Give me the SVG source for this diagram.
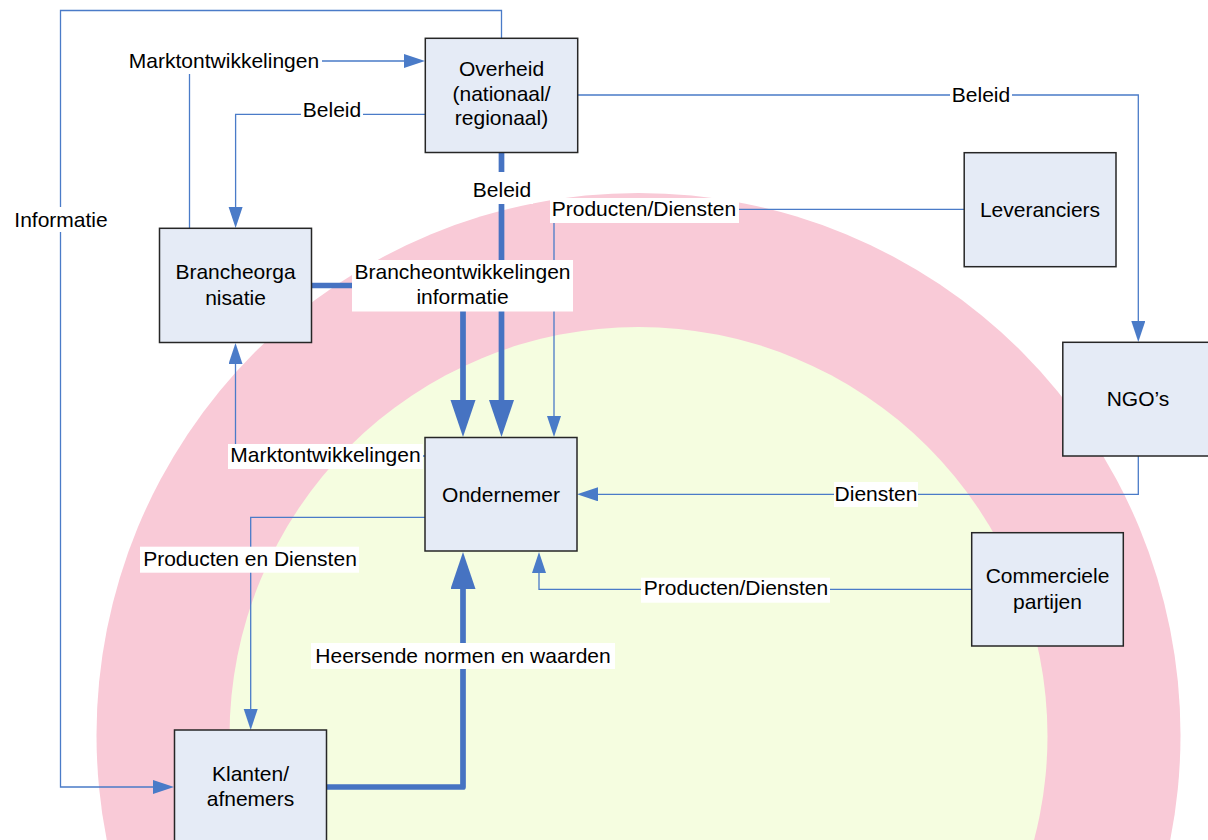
<svg xmlns="http://www.w3.org/2000/svg" width="1208" height="840" viewBox="0 0 1208 840">
  <style>
    .node rect { fill: #e5ebf6; stroke: #262626; stroke-width: 1.5; }
    text { font-family: "Liberation Sans", Arial, sans-serif; font-size: 21px; fill: #000; text-anchor: middle; }
    .thin { fill: none; stroke: #4a7bc8; stroke-width: 1.3; }
    .thick { fill: none; stroke: #4673c2; stroke-width: 5.7; stroke-linecap: round; stroke-linejoin: round; }
    .lbl { fill: #ffffff; }
  </style>
  <defs>
    <marker id="arrow" markerUnits="userSpaceOnUse" markerWidth="22" markerHeight="15" refX="1" refY="7" orient="auto">
      <path d="M0,0 L21,7 L0,14 Z" fill="#4a7bc8"/>
    </marker>
    <marker id="arrowBig" markerUnits="userSpaceOnUse" markerWidth="38" markerHeight="26" refX="3" refY="12.5" orient="auto">
      <path d="M0,0 L37,12.5 L0,25 Z" fill="#4673c2"/>
    </marker>
  </defs>

  <!-- surroundings: outer ring and inner field -->
  <g id="background">
    <circle cx="638.5" cy="735" r="542" fill="#f9cad7"/>
    <circle cx="638.5" cy="736" r="409" fill="#f5fde0"/>
  </g>

  <g id="connectors">
    <!-- Informatie: Overheid -> Klanten -->
    <path class="thin" d="M501.5,38 V10.5 H60.5 V787 H154" marker-end="url(#arrow)"/>
    <!-- Marktontwikkelingen: Brancheorganisatie -> Overheid -->
    <path class="thin" d="M189.5,228 V61 H405" marker-end="url(#arrow)"/>
    <!-- Beleid: Overheid -> Brancheorganisatie -->
    <path class="thin" d="M425,114.3 H235.6 V208" marker-end="url(#arrow)"/>
    <!-- Beleid: Overheid -> NGO's -->
    <path class="thin" d="M577,95 H1138.3 V322" marker-end="url(#arrow)"/>
    <!-- Beleid: Overheid -> Ondernemer -->
    <path class="thick" d="M501.5,152 V403"/>
    <path d="M501.5,398 V403" fill="none" stroke="none" marker-end="url(#arrowBig)"/>
    <!-- Brancheontwikkelingen: Brancheorganisatie -> Ondernemer -->
    <path class="thick" d="M311,285.5 H463 V403"/>
    <path d="M463,398 V403" fill="none" stroke="none" marker-end="url(#arrowBig)"/>
    <!-- Producten/Diensten: Leveranciers -> Ondernemer -->
    <path class="thin" d="M964,209.3 H554 V417" marker-end="url(#arrow)"/>
    <!-- Marktontwikkelingen: Ondernemer -> Brancheorganisatie -->
    <path class="thin" d="M425,456 H235.5 V363" marker-end="url(#arrow)"/>
    <!-- Diensten: NGO's -> Ondernemer -->
    <path class="thin" d="M1138.3,456 V494.3 H597" marker-end="url(#arrow)"/>
    <!-- Producten en Diensten: Ondernemer -> Klanten -->
    <path class="thin" d="M425,517.3 H250.7 V710" marker-end="url(#arrow)"/>
    <!-- Producten/Diensten: Commerciele partijen -> Ondernemer -->
    <path class="thin" d="M972,589.3 H539 V572" marker-end="url(#arrow)"/>
    <!-- Heersende normen en waarden: Klanten -> Ondernemer -->
    <path class="thick" d="M326.5,787 H463 V586"/>
    <path d="M463,591 V586" fill="none" stroke="none" marker-end="url(#arrowBig)"/>

    <!-- connector labels -->
    <g id="labels">
      <rect class="lbl" x="125" y="49" width="197" height="25"/>
      <text x="224" y="68.3">Marktontwikkelingen</text>

      <rect class="lbl" x="13" y="207" width="96" height="25"/>
      <text x="61" y="226.7">Informatie</text>

      <rect class="lbl" x="301" y="102" width="62" height="25"/>
      <text x="332" y="116.7">Beleid</text>

      <rect class="lbl" x="950" y="83" width="62" height="25"/>
      <text x="981" y="102">Beleid</text>

      <rect class="lbl" x="470" y="172" width="63" height="32"/>
      <text x="502" y="196.7">Beleid</text>

      <rect class="lbl" x="550" y="198" width="189" height="25"/>
      <text x="644" y="216">Producten/Diensten</text>

      <rect class="lbl" x="352" y="260" width="221" height="51.5"/>
      <text x="462.5" y="279">Brancheontwikkelingen</text>
      <text x="462.5" y="304">informatie</text>

      <rect class="lbl" x="228" y="444" width="195" height="25"/>
      <text x="325.5" y="462.3">Marktontwikkelingen</text>

      <rect class="lbl" x="834" y="482" width="84" height="25"/>
      <text x="876" y="501">Diensten</text>

      <rect class="lbl" x="140" y="546.7" width="219" height="26"/>
      <text x="250" y="566">Producten en Diensten</text>

      <rect class="lbl" x="641" y="577.7" width="189" height="25"/>
      <text x="736" y="595">Producten/Diensten</text>

      <rect class="lbl" x="311" y="643" width="304" height="26"/>
      <text x="463" y="662.7">Heersende normen en waarden</text>
    </g>
  </g>

  <g id="overheid" class="node">
    <rect x="425.3" y="38.3" width="152.4" height="114.2"/>
    <text x="501.5" y="76">Overheid</text>
    <text x="501.5" y="100.5">(nationaal/</text>
    <text x="501.5" y="125">regionaal)</text>
  </g>

  <g id="brancheorganisatie" class="node">
    <rect x="159.5" y="228.3" width="152" height="114.2"/>
    <text x="235.5" y="279">Brancheorga</text>
    <text x="235.5" y="305">nisatie</text>
  </g>

  <g id="leveranciers" class="node">
    <rect x="964.2" y="152.7" width="151.8" height="114"/>
    <text x="1040" y="216.7">Leveranciers</text>
  </g>

  <g id="ngos" class="node">
    <rect x="1062.8" y="342.3" width="152" height="113.7"/>
    <text x="1138" y="406">NGO’s</text>
  </g>

  <g id="ondernemer" class="node">
    <rect x="425" y="437.5" width="152" height="113.5"/>
    <text x="501" y="501.7">Ondernemer</text>
  </g>

  <g id="commerciele-partijen" class="node">
    <rect x="971.7" y="532.7" width="151.6" height="113.3"/>
    <text x="1047.5" y="583.3">Commerciele</text>
    <text x="1047.5" y="609.3">partijen</text>
  </g>

  <g id="klanten" class="node">
    <rect x="174.5" y="730" width="152" height="114"/>
    <text x="250.5" y="780.7">Klanten/</text>
    <text x="250.5" y="805.7">afnemers</text>
  </g>
</svg>
